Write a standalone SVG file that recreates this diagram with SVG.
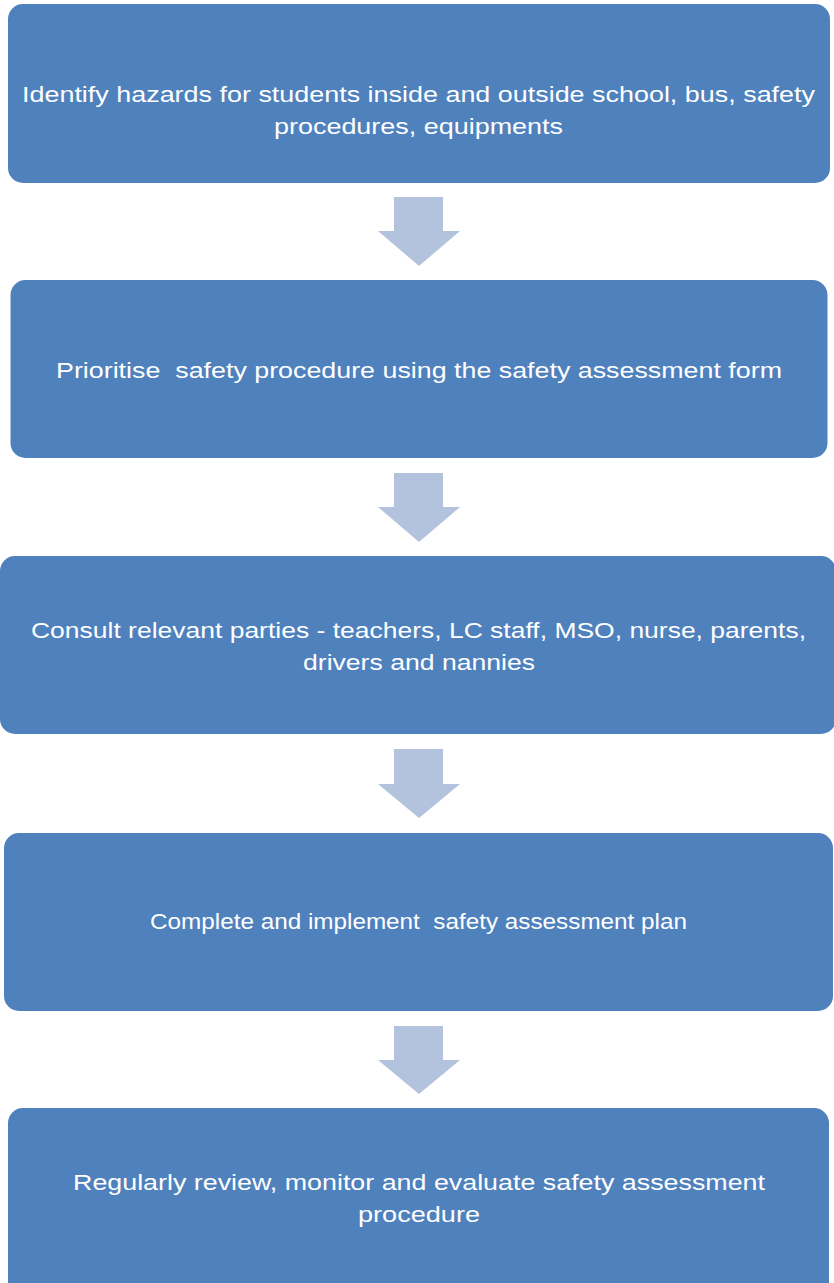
<svg xmlns="http://www.w3.org/2000/svg" width="834" height="1283" viewBox="0 0 834 1283">
<style>
.box{fill:#4F81BD;}
.arrow{fill:#B3C3DD;}
.t{font-family:"Liberation Sans",Arial,sans-serif;font-size:22px;fill:#FFFFFF;text-anchor:middle;white-space:pre;}
</style>
<rect width="834" height="1283" fill="#FFFFFF"/>
<g id="connectors">
<polygon class="arrow" points="394,197 443,197 443,231 460,231 419,266 378,231 394,231"/>
<polygon class="arrow" points="394,473 443,473 443,507 460,507 419,542 378,507 394,507"/>
<polygon class="arrow" points="394,749 443,749 443,784 460,784 419,818 378,784 394,784"/>
<polygon class="arrow" points="394,1026 443,1026 443,1060 460,1060 419,1094 378,1060 394,1060"/>
</g>
<g id="node1">
<rect class="box" x="8" y="4" width="822" height="179" rx="15"/>
<text class="t" x="418.5" y="102" textLength="793" lengthAdjust="spacingAndGlyphs">Identify hazards for students inside and outside school, bus, safety</text>
<text class="t" x="418.5" y="134" textLength="289" lengthAdjust="spacingAndGlyphs">procedures, equipments</text>
</g>
<g id="node2">
<rect class="box" x="10.5" y="280" width="817" height="178" rx="15"/>
<text class="t" x="419" y="378" textLength="726" lengthAdjust="spacingAndGlyphs" xml:space="preserve">Prioritise  safety procedure using the safety assessment form</text>
</g>
<g id="node3">
<rect class="box" x="0" y="556" width="836" height="178" rx="15"/>
<text class="t" x="418.5" y="638" textLength="775" lengthAdjust="spacingAndGlyphs">Consult relevant parties - teachers, LC staff, MSO, nurse, parents,</text>
<text class="t" x="419" y="670" textLength="232" lengthAdjust="spacingAndGlyphs">drivers and nannies</text>
</g>
<g id="node4">
<rect class="box" x="4" y="833" width="829" height="178" rx="15"/>
<text class="t" x="418.5" y="929" textLength="537" lengthAdjust="spacingAndGlyphs" xml:space="preserve">Complete and implement  safety assessment plan</text>
</g>
<g id="node5">
<rect class="box" x="8" y="1108" width="821" height="190" rx="15"/>
<text class="t" x="419" y="1190" textLength="692" lengthAdjust="spacingAndGlyphs">Regularly review, monitor and evaluate safety assessment</text>
<text class="t" x="419" y="1222" textLength="122" lengthAdjust="spacingAndGlyphs">procedure</text>
</g>
</svg>
